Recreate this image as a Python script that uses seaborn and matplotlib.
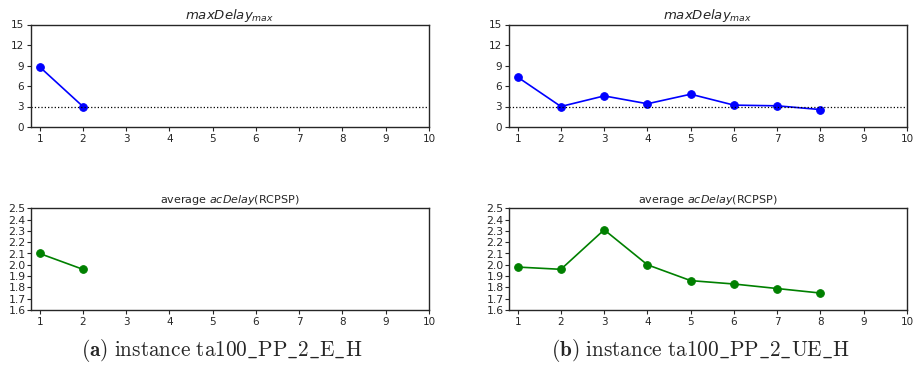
import numpy as np
import pandas as pd
import matplotlib
matplotlib.use("Agg")
import matplotlib.pyplot as plt
import seaborn as sns

# Data
iters_a = [1, 2]
maxdelay_a = [8.8, 3.0]
acdelay_a = [2.10, 1.96]

iters_b = [1, 2, 3, 4, 5, 6, 7, 8]
maxdelay_b = [7.3, 3.0, 4.55, 3.4, 4.8, 3.2, 3.1, 2.55]
acdelay_b = [1.98, 1.96, 2.31, 2.00, 1.86, 1.83, 1.79, 1.75]

top_ticks = [0, 3, 6, 9, 12, 15]
bot_ticks = [1.6, 1.7, 1.8, 1.9, 2.0, 2.1, 2.2, 2.3, 2.4, 2.5]
x_ticks = [1, 2, 3, 4, 5, 6, 7, 8, 9, 10]
ref_line = 3
captions = [r"$\mathbf{(a)}\ \mathrm{instance\ ta100\_PP\_2\_E\_H}$",
            r"$\mathbf{(b)}\ \mathrm{instance\ ta100\_PP\_2\_UE\_H}$"]

sns.set_style("ticks")
plt.rcParams["font.family"] = ["DejaVu Sans"]
plt.rcParams["mathtext.fontset"] = "dejavusans"

W, H = 918, 367
fig = plt.figure(figsize=(W / 100, H / 100), dpi=100)

def px_axes(l, t, r, b):
    return fig.add_axes([l / W, 1 - b / H, (r - l) / W, (b - t) / H])

lefts = [31, 509]
series = [(iters_a, maxdelay_a, acdelay_a), (iters_b, maxdelay_b, acdelay_b)]

for i, (xs, md, ac) in enumerate(series):
    l = lefts[i]
    r = l + 398
    ax1 = px_axes(l, 24.5, r, 127)
    df1 = pd.DataFrame({"x": xs, "y": md})
    sns.lineplot(data=df1, x="x", y="y", marker="o", color="b", markersize=5.5,
                 markeredgecolor="b", linewidth=1.2, ax=ax1)
    ax1.axhline(ref_line, color="k", ls=":", lw=0.9)
    ax1.set_xlim(0.8, 10)
    ax1.set_ylim(0, 15)
    ax1.set_xticks(x_ticks)
    ax1.set_yticks(top_ticks)
    ax1.set_xlabel("")
    ax1.set_ylabel("")
    ax1.set_title(r"$maxDelay_{max}$", fontsize=9.5, pad=3)
    ax1.tick_params(labelsize=7.5, length=3, pad=2)

    ax2 = px_axes(l, 208.3, r, 310)
    df2 = pd.DataFrame({"x": xs, "y": ac})
    sns.lineplot(data=df2, x="x", y="y", marker="o", color="g", markersize=5.5,
                 markeredgecolor="g", linewidth=1.2, ax=ax2)
    ax2.set_xlim(0.8, 10)
    ax2.set_ylim(1.6, 2.5)
    ax2.set_xticks(x_ticks)
    ax2.set_yticks(bot_ticks)
    ax2.set_yticklabels([f"{v:.1f}" for v in bot_ticks])
    ax2.set_xlabel("")
    ax2.set_ylabel("")
    ax2.set_title(r"average $acDelay$(RCPSP)", fontsize=8, pad=4)
    ax2.tick_params(labelsize=7.5, length=3, pad=2)
    ax2.tick_params(axis="y", labelsize=7.8, pad=1)

    for ax in (ax1, ax2):
        for s in ax.spines.values():
            s.set_linewidth(1.0)
            s.set_visible(True)

    cx = (l + r) / 2 - 8
    fig.text(cx / W, 1 - 351 / H, captions[i], ha="center", va="center",
             fontsize=15.3, math_fontfamily="cm")

fig.savefig("out.png", dpi=100)
